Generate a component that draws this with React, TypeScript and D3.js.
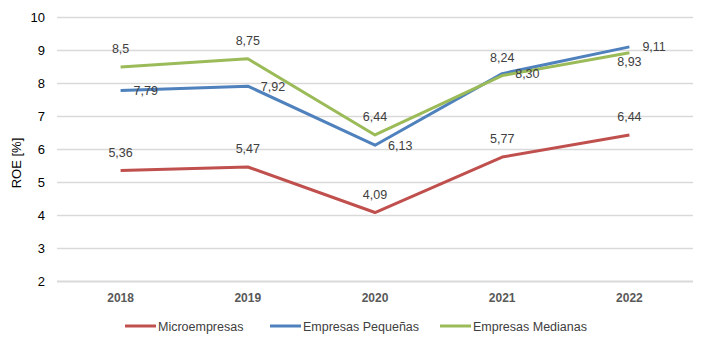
import React, { useEffect, useRef } from 'react';
import * as d3 from 'd3';

const years = ['2018', '2019', '2020', '2021', '2022'];
const microValues = [5.36, 5.47, 4.09, 5.77, 6.44];
const pequenasValues = [7.79, 7.92, 6.13, 8.3, 9.11];
const medianasValues = [8.5, 8.75, 6.44, 8.24, 8.93];
const yTicks = [2, 3, 4, 5, 6, 7, 8, 9, 10];

// decimals shown in each value label
const microDecimals = [2, 2, 2, 2, 2];
const pequenasDecimals = [2, 2, 2, 2, 2];
const medianasDecimals = [1, 2, 2, 2, 2];

// where each series puts its value labels
const microLabelPos = ['above', 'above', 'above', 'above', 'above'];
const pequenasLabelPos = ['right', 'right', 'right', 'right', 'right'];
const medianasLabelPos = ['above', 'above', 'above', 'above', 'below'];

const seriesList = [
  { name: 'Microempresas', values: microValues, decimals: microDecimals, color: '#C0504D', labelPos: microLabelPos },
  { name: 'Empresas Pequeñas', values: pequenasValues, decimals: pequenasDecimals, color: '#4F81BD', labelPos: pequenasLabelPos },
  { name: 'Empresas Medianas', values: medianasValues, decimals: medianasDecimals, color: '#9BBB59', labelPos: medianasLabelPos },
];

const App = () => {
  const svgRef = useRef<SVGSVGElement>(null);

  useEffect(() => {
    const svg = d3.select(svgRef.current);
    svg.selectAll('*').remove();

    const font = '"Liberation Sans", Arial, sans-serif';
    const left = 57, right = 693, top = 17.5, bottom = 281.5;

    const x = d3.scaleBand().domain(years).range([left, right]);
    const y = d3.scaleLinear().domain([2, 10]).range([bottom, top]);
    const cx = (d: string) => (x(d) as number) + x.bandwidth() / 2;

    // grid
    svg.append('g')
      .selectAll('line')
      .data(yTicks)
      .enter()
      .append('line')
      .attr('x1', left)
      .attr('x2', right)
      .attr('y1', d => y(d))
      .attr('y2', d => y(d))
      .attr('stroke', '#D9D9D9')
      .attr('stroke-width', d => (d === 2 ? 2 : 1.3));

    // y tick labels
    svg.append('g')
      .selectAll('text')
      .data(yTicks)
      .enter()
      .append('text')
      .attr('x', 45)
      .attr('y', d => y(d) + 4.5)
      .attr('text-anchor', 'end')
      .style('font-family', font)
      .style('font-size', '13px')
      .style('fill', '#000')
      .text(d => d);

    // y title
    svg.append('text')
      .attr('transform', 'translate(21,163) rotate(-90)')
      .attr('text-anchor', 'middle')
      .style('font-family', font)
      .style('font-size', '13px')
      .style('fill', '#000')
      .text('ROE [%]');

    // x labels
    svg.append('g')
      .selectAll('text')
      .data(years)
      .enter()
      .append('text')
      .attr('x', d => cx(d))
      .attr('y', 302)
      .attr('text-anchor', 'middle')
      .style('font-family', font)
      .style('font-size', '12px')
      .style('font-weight', 'bold')
      .style('fill', '#595959')
      .text(d => d);

    const line = d3.line<number>()
      .x((d, i) => cx(years[i]))
      .y(d => y(d));

    seriesList.forEach(s => {
      svg.append('path')
        .datum(s.values)
        .attr('d', line)
        .attr('fill', 'none')
        .attr('stroke', s.color)
        .attr('stroke-width', 3)
        .attr('stroke-linejoin', 'round');
    });

    // data labels
    seriesList.forEach(s => {
      svg.append('g')
        .selectAll('text')
        .data(s.values)
        .enter()
        .append('text')
        .attr('x', (d, i) => (s.labelPos[i] === 'right' ? cx(years[i]) + 13 : cx(years[i])))
        .attr('y', (d, i) => {
          const p = s.labelPos[i];
          if (p === 'above') return y(d) - 14;
          if (p === 'below') return y(d) + 13;
          return y(d) + 4.5;
        })
        .attr('text-anchor', (d, i) => (s.labelPos[i] === 'right' ? 'start' : 'middle'))
        .style('font-family', font)
        .style('font-size', '12.5px')
        .style('fill', '#404040')
        .text((d, i) => d.toFixed(s.decimals[i]).replace('.', ','));
    });

    // legend
    const legendX = [125, 270, 440];
    seriesList.forEach((s, i) => {
      const lg = svg.append('g').attr('transform', `translate(${legendX[i]},326)`);
      lg.append('line')
        .attr('x1', 0)
        .attr('x2', 31)
        .attr('stroke', s.color)
        .attr('stroke-width', 3);
      lg.append('text')
        .attr('x', 33)
        .attr('y', 4.5)
        .style('font-family', font)
        .style('font-size', '12.5px')
        .style('fill', '#404040')
        .text(s.name);
    });
  }, []);

  return (
    <svg
      ref={svgRef}
      width={709}
      height={350}
      style={{ position: 'absolute', left: 0, top: 0, background: '#fff' }}
    />
  );
};

export default App;
